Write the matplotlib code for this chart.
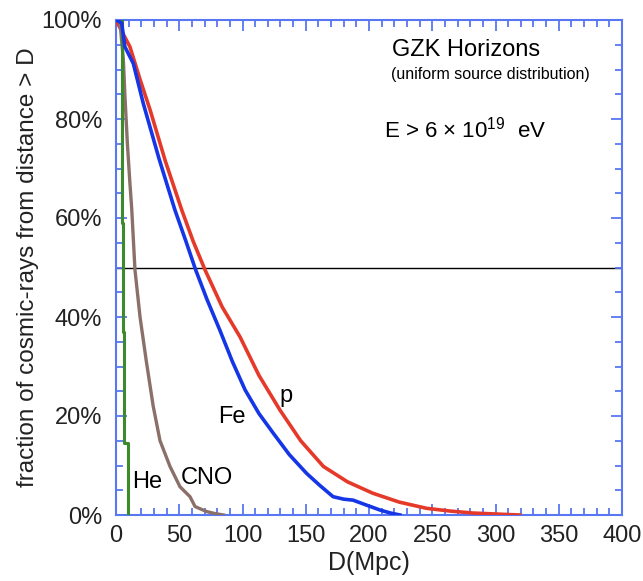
import matplotlib.pyplot as plt
import numpy as np
from matplotlib.ticker import MultipleLocator, FuncFormatter

plt.rcParams['font.family'] = ['Liberation Sans', 'DejaVu Sans']
plt.rcParams['mathtext.fontset'] = 'custom'
plt.rcParams['mathtext.rm'] = 'Liberation Sans'
plt.rcParams['mathtext.default'] = 'regular'

# --- dane (D w Mpc, udzial w %) ---
p_d = [0, 5, 11, 19, 27, 39, 52, 61, 70.4, 84, 98, 113, 129.6, 146, 164, 183, 203, 224, 245.5, 264, 282, 300, 319]
p_f = [100, 97.5, 94.6, 88, 81.8, 71.5, 61.6, 55.3, 49.5, 42, 36, 28.2, 21.2, 15, 9.8, 6.7, 4.4, 2.6, 1.35, 0.8, 0.4, 0.2, 0]

fe_d = [0, 4.5, 7, 13.7, 21.5, 34, 46.6, 55, 63, 72, 82, 92, 102, 113, 124.4, 137, 150.7, 161, 171.6, 180, 187.4, 198, 208.7, 217, 224.5]
fe_f = [100, 99.4, 94.6, 91.2, 83.2, 72, 61.6, 55.5, 49.5, 43.5, 37.4, 31, 25.3, 20.5, 16.5, 12.2, 8.4, 6, 3.7, 3.2, 3.0, 2.0, 1.0, 0.4, 0]

cno_d = [0, 3, 5.8, 7, 9, 11, 12.4, 15, 19, 24, 29.4, 34.8, 42.7, 50.6, 58.5, 62.5, 71.6, 78, 85]
cno_f = [100, 100, 92, 85, 75, 67, 62, 49.5, 40, 31, 22, 15, 9.8, 5.7, 3.7, 1.7, 0.7, 0.3, 0]

he_d = [0, 4.5, 4.5, 5.2, 5.2, 6.6, 6.6, 9.7, 9.7]
he_f = [100, 100, 59, 59, 37, 37, 14.5, 14.5, 0]

etykiety = [('p', 134, 24.0), ('Fe', 91.5, 19.8), ('CNO', 72, 7.5), ('He', 24.5, 6.7)]

# --- rysunek ---
fig = plt.figure(figsize=(6.43, 5.81), dpi=100)
ax = fig.add_axes([116 / 643, 66 / 581, 506 / 643, 495 / 581])

ax.axhline(50, color='black', linewidth=1.0, zorder=1)
ax.plot(p_d, p_f, color='#e53a2a', linewidth=2.6, zorder=3)
ax.plot(fe_d, fe_f, color='#1436e6', linewidth=2.6, zorder=4)
ax.plot(cno_d, cno_f, color='#8a7068', linewidth=2.4, zorder=3)
ax.plot(he_d, he_f, color='#3d8a2c', linewidth=2.2, zorder=3)

for tekst, x, y in etykiety:
    ax.text(x, y, tekst, fontsize=17, ha='center', va='center', zorder=5)

ax.text(0.692, 0.939, 'GZK Horizons', transform=ax.transAxes, fontsize=17,
        ha='center', va='center')
ax.text(0.739, 0.889, '(uniform source distribution)', transform=ax.transAxes,
        fontsize=11.5, ha='center', va='center')
ax.text(0.690, 0.778, r'E > 6 × 10$^{19}$  eV', transform=ax.transAxes,
        fontsize=16, ha='center', va='center')

ax.set_xlim(0, 400)
ax.set_ylim(0, 100)
ax.xaxis.set_major_locator(MultipleLocator(50))
ax.xaxis.set_minor_locator(MultipleLocator(10))
ax.yaxis.set_major_locator(MultipleLocator(20))
ax.yaxis.set_minor_locator(MultipleLocator(5))
ax.yaxis.set_major_formatter(FuncFormatter(lambda v, _: f'{v:.0f}%'))

niebieski = '#5877f2'
for s in ax.spines.values():
    s.set_color(niebieski)
    s.set_linewidth(1.5)
ax.tick_params(which='both', direction='in', top=True, right=True,
               color=niebieski, labelcolor='#222222', labelsize=17, width=1.3)
ax.tick_params(which='major', length=8)
ax.tick_params(which='minor', length=5)
ax.tick_params(axis='x', which='major', pad=7)
ax.tick_params(axis='y', which='major', pad=10)

ax.set_xlabel('D(Mpc)', fontsize=18, labelpad=3, color='#222222')
ax.set_ylabel('fraction of cosmic-rays from distance > D', fontsize=17.5,
              labelpad=2, color='#222222')

fig.savefig('out.png', dpi=100)
